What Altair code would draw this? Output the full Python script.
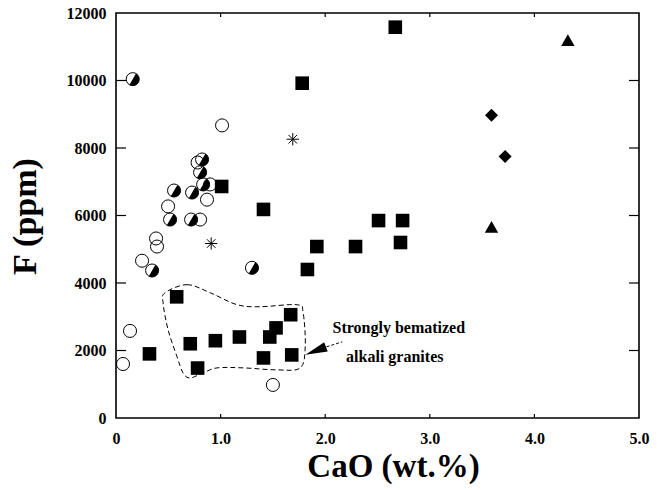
import altair as alt
import pandas as pd

# ---- F versus CaO data by sample group ----
sq_cao = [2.67, 1.78, 1.01, 1.41, 2.51, 2.74, 2.72, 1.92, 2.29, 1.83,
          0.58, 0.71, 0.95, 1.18, 1.47, 1.53, 1.67, 1.41, 1.68, 0.78, 0.32]
sq_f = [11580, 9920, 6860, 6180, 5850, 5850, 5200, 5080, 5080, 4400,
        3590, 2200, 2290, 2400, 2400, 2670, 3060, 1780, 1870, 1480, 1900]

half_cao = [0.16, 0.555, 0.517, 0.718, 0.727, 0.804, 0.823, 0.833, 0.345, 1.30]
half_f = [10040, 6740, 5880, 5880, 6680, 7280, 7660, 6920, 4370, 4450]

open_cao = [1.014, 0.498, 0.383, 0.392, 0.249, 0.804, 0.87, 0.90, 0.78,
            0.134, 0.067, 1.50]
open_f = [8670, 6270, 5320, 5080, 4660, 5880, 6470, 6920, 7570,
          2580, 1600, 980]

tri_cao = [4.32, 3.59]
tri_f = [11170, 5640]

dia_cao = [3.59, 3.72]
dia_f = [8970, 7750]

ast_cao = [1.69, 0.91]
ast_f = [8260, 5170]

# outline enclosing the strongly hematized alkali granites
loop_cao = [0.469, 0.679, 0.900, 1.158, 1.378, 1.732, 1.789, 1.809, 1.761,
            1.541, 1.215, 0.967, 0.833, 0.708, 0.641, 0.584, 0.498, 0.450]
loop_f = [3712, 3950, 3712, 3356, 3297, 3356, 3119, 2109, 1485,
          1426, 1485, 1485, 1336, 1188, 1336, 1812, 2614, 3416]

# annotation: label lines and arrow
note_lines = ["Strongly bematized", "alkali granites"]
note_cao = [2.07, 2.20]
note_f = [2524, 1663]
arrow_cao = [1.909]
arrow_f = [1990]
arrow_tail_cao = [2.013, 2.163]
arrow_tail_f = [2109, 2257]

x_ticks = [0, 1, 2, 3, 4, 5]
y_ticks = [0, 2000, 4000, 6000, 8000, 10000, 12000]

W, H = 523, 405
FONT = "Liberation Serif"

xs = alt.Scale(domain=[0, 5], nice=False, zero=False)
ys = alt.Scale(domain=[0, 12000], nice=False, zero=False)

x_axis = alt.Axis(
    values=x_ticks,
    labelExpr="datum.value == 0 ? '0' : format(datum.value, '.1f')",
    ticks=False, tickSize=0, domain=False, grid=False,
    labelFont=FONT, labelFontSize=16, labelFontWeight="bold",
    labelColor="black", labelPadding=12, labelFlush=False,
    labelOverlap=False,
    titleFont=FONT, titleFontSize=33, titleFontWeight="bold",
    titleColor="black", titleX=277, titleY=58,
    titleAlign="center", titleBaseline="alphabetic",
)
y_axis = alt.Axis(
    values=y_ticks, format="d",
    ticks=False, tickSize=0, domain=False, grid=False,
    labelFont=FONT, labelFontSize=16, labelFontWeight="bold",
    labelColor="black", labelPadding=10, labelFlush=False,
    labelOverlap=False,
    titleFont=FONT, titleFontSize=34, titleFontWeight="bold",
    titleColor="black", titleX=-81, titleY=203, titleAngle=270,
    titleAlign="center", titleBaseline="alphabetic",
)


def X():
    return alt.X("x:Q", scale=xs, axis=x_axis, title="CaO (wt.%)")


def Y():
    return alt.Y("y:Q", scale=ys, axis=y_axis, title="F (ppm)")


def frame(xv, yv):
    return pd.DataFrame({"x": xv, "y": yv})


HALF_DISC = "M0.5 -0.866 A1 1 0 0 1 -0.5 0.866 Z"
TRIANGLE = "M0 -1 L1 0.75 L-1 0.75 Z"
ASTERISK = "M0 -1 L0 1 M-1 0 L1 0 M-0.7 -0.7 L0.7 0.7 M-0.7 0.7 L0.7 -0.7"
ARROW_HEAD = "M0 -1 L0.45 1 L-0.45 1 Z"

loop_df = pd.DataFrame({"x": loop_cao, "y": loop_f, "i": range(len(loop_cao))})
loop = alt.Chart(loop_df).mark_line(
    interpolate="cardinal-closed", stroke="black", strokeWidth=1,
    strokeDash=[5, 3]
).encode(x=X(), y=Y(), order=alt.Order("i:Q"))

open_pts = alt.Chart(frame(open_cao, open_f)).mark_point(
    shape="circle", filled=False, stroke="black", strokeWidth=1,
    size=170, opacity=1
).encode(x=X(), y=Y())

half_ring = alt.Chart(frame(half_cao, half_f)).mark_point(
    shape="circle", filled=False, stroke="black", strokeWidth=1,
    size=170, opacity=1
).encode(x=X(), y=Y())

half_fill = alt.Chart(frame(half_cao, half_f)).mark_point(
    shape=HALF_DISC, filled=True, fill="black", strokeWidth=0,
    size=170, opacity=1
).encode(x=X(), y=Y())

squares = alt.Chart(frame(sq_cao, sq_f)).mark_point(
    shape="square", filled=True, fill="black", strokeWidth=0,
    size=185, opacity=1
).encode(x=X(), y=Y())

triangles = alt.Chart(frame(tri_cao, tri_f)).mark_point(
    shape=TRIANGLE, filled=True, fill="black", strokeWidth=0,
    size=180, opacity=1
).encode(x=X(), y=Y())

diamonds = alt.Chart(frame(dia_cao, dia_f)).mark_point(
    shape="diamond", filled=True, fill="black", strokeWidth=0,
    size=170, opacity=1
).encode(x=X(), y=Y())

asterisks = alt.Chart(frame(ast_cao, ast_f)).mark_point(
    shape=ASTERISK, filled=False, stroke="black", strokeWidth=1,
    size=150, opacity=1
).encode(x=X(), y=Y())

# inward tick marks on all four sides of the frame
inner_y = [v for v in y_ticks if 0 < v < 12000]
inner_x = [v for v in x_ticks if 0 < v < 5]
ty = pd.DataFrame({"y": inner_y})
tx = pd.DataFrame({"x": inner_x})
tick_left = alt.Chart(ty).mark_rule(stroke="black", strokeWidth=1.2).encode(
    y=Y(), x=alt.value(0), x2=alt.value(10))
tick_right = alt.Chart(ty).mark_rule(stroke="black", strokeWidth=1.2).encode(
    y=Y(), x=alt.value(W - 10), x2=alt.value(W))
tick_top = alt.Chart(tx).mark_rule(stroke="black", strokeWidth=1.2).encode(
    x=X(), y=alt.value(0), y2=alt.value(4))
tick_bottom = alt.Chart(tx).mark_rule(stroke="black", strokeWidth=1.2).encode(
    x=X(), y=alt.value(H - 4), y2=alt.value(H))

# annotation arrow and text
arrow_tail = alt.Chart(frame(arrow_tail_cao, arrow_tail_f)).mark_line(
    stroke="black", strokeWidth=1, strokeDash=[3, 2]
).encode(x=X(), y=Y())
arrow_head = alt.Chart(frame(arrow_cao, arrow_f)).mark_point(
    shape=ARROW_HEAD, filled=True, fill="black", strokeWidth=0,
    size=484, angle=249, opacity=1
).encode(x=X(), y=Y())
note_df = pd.DataFrame({"x": note_cao, "y": note_f, "t": note_lines})
notes = alt.Chart(note_df).mark_text(
    align="left", baseline="alphabetic", font=FONT, fontSize=16,
    fontWeight="bold", color="black"
).encode(x=X(), y=Y(), text="t:N")

chart = alt.layer(
    loop, open_pts, half_ring, half_fill, asterisks, diamonds, triangles,
    squares, tick_left, tick_right, tick_top, tick_bottom,
    arrow_tail, arrow_head, notes
).properties(
    width=W, height=H,
    padding={"left": 116, "top": 13, "right": 18, "bottom": 72},
    autosize=alt.AutoSizeParams(type="none"),
    background="white",
).configure_view(
    stroke="black", strokeWidth=1.6
)

chart.save("out.html", embed_options={"renderer": "svg", "actions": False})
